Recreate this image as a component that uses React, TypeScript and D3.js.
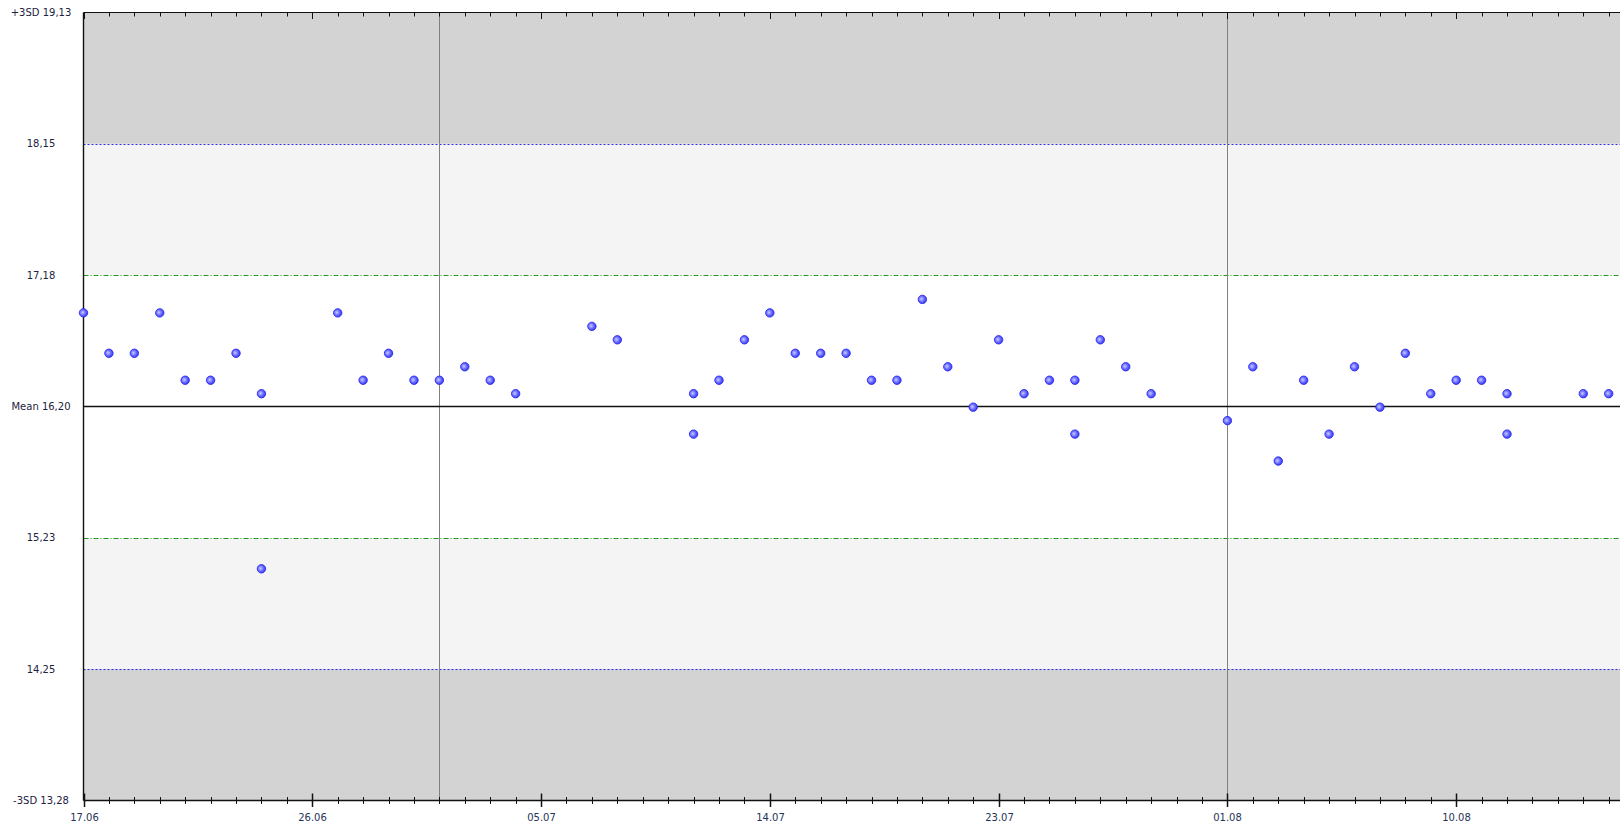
import React from "react";
import * as d3 from "d3";

const START = "2023-06-17";
const dayOffsets: number[] = [0, 1, 2, 3, 4, 5, 6, 7, 7, 10, 11, 12, 13, 14, 15, 16, 17, 20, 21, 24, 24, 25, 26, 27, 28, 29, 30, 31, 32, 33, 34, 35, 36, 37, 38, 39, 39, 40, 41, 42, 45, 46, 47, 48, 49, 50, 51, 52, 53, 54, 55, 56, 56, 59, 60];
const values: number[] = [16.9, 16.6, 16.6, 16.9, 16.4, 16.4, 16.6, 16.3, 15.0, 16.9, 16.4, 16.6, 16.4, 16.4, 16.5, 16.4, 16.3, 16.8, 16.7, 16.3, 16.0, 16.4, 16.7, 16.9, 16.6, 16.6, 16.6, 16.4, 16.4, 17.0, 16.5, 16.2, 16.7, 16.3, 16.4, 16.4, 16.0, 16.7, 16.5, 16.3, 16.1, 16.5, 15.8, 16.4, 16.0, 16.5, 16.2, 16.6, 16.3, 16.4, 16.4, 16.3, 16.0, 16.3, 16.3];

const MEAN = 16.205;
const SD = 0.975;
const sdLevels = [-3, -2, -1, 0, 1, 2, 3];
const yLabels = ["-3SD 13,28", "14,25", "15,23", "Mean 16,20", "17,18", "18,15", "+3SD 19,13"];
const monthLines = ["2023-07-01", "2023-08-01"];
const labelEvery = 9;
const visibleDays = 61;

const W = 1620;
const H = 823;
const left = 83.5;
const top = 12.5;
const bottom = 800.5;
const pxPerDay = 25.42;

export default function App() {
  const t0 = new Date(START + "T00:00:00");
  const t1 = d3.timeDay.offset(t0, visibleDays);
  const x = d3.scaleTime().domain([t0, t1]).range([left, left + visibleDays * pxPerDay]);
  const y = d3.scaleLinear().domain([MEAN - 3 * SD, MEAN + 3 * SD]).range([bottom, top]);
  const days = d3.timeDay.range(t0, d3.timeDay.offset(t1, 1));
  const fmt = d3.timeFormat("%d.%m");
  const pts = dayOffsets.map((d, i) => ({ date: d3.timeDay.offset(t0, d), v: values[i] }));
  const xr = W + 10;
  const band = (a: number, b: number, fill: string, k: string) => (
    <rect key={k} x={left} y={y(b)} width={xr - left} height={y(a) - y(b)} fill={fill} />
  );
  return (
    <svg width={W} height={H} style={{ position: "absolute", left: 0, top: 0, display: "block", background: "#fff" }}>
      <defs>
        <radialGradient id="pg" cx="40%" cy="45%" r="60%">
          <stop offset="0%" stopColor="#c8ccff" />
          <stop offset="55%" stopColor="#6a6cff" />
          <stop offset="100%" stopColor="#3535f5" />
        </radialGradient>
      </defs>
      {band(MEAN + 2 * SD, MEAN + 3 * SD, "#d3d3d3", "b1")}
      {band(MEAN + SD, MEAN + 2 * SD, "#f4f4f4", "b2")}
      {band(MEAN - SD, MEAN + SD, "#ffffff", "b3")}
      {band(MEAN - 2 * SD, MEAN - SD, "#f4f4f4", "b4")}
      {band(MEAN - 3 * SD, MEAN - 2 * SD, "#d3d3d3", "b5")}
      {[2, -2].map((k) => (
        <line key={"s2" + k} x1={left} x2={xr} y1={Math.round(y(MEAN + k * SD)) + 0.5} y2={Math.round(y(MEAN + k * SD)) + 0.5} stroke="#2a2ae0" strokeWidth={1} strokeDasharray="2,2" />
      ))}
      {[1, -1].map((k) => (
        <line key={"s1" + k} x1={left} x2={xr} y1={Math.round(y(MEAN + k * SD)) + 0.5} y2={Math.round(y(MEAN + k * SD)) + 0.5} stroke="#1f9a1f" strokeWidth={1} strokeDasharray="5,2,1,2" />
      ))}
      {monthLines.map((m) => {
        const xx = Math.round(x(new Date(m + "T00:00:00"))) + 0.5;
        return <line key={m} x1={xx} x2={xx} y1={top} y2={bottom} stroke="#808080" strokeWidth={1} />;
      })}
      <line x1={left} x2={xr} y1={y(MEAN)} y2={y(MEAN)} stroke="#111" strokeWidth={1.6} />
      <line x1={left} x2={xr} y1={top} y2={top} stroke="#111" strokeWidth={1.2} />
      <line x1={left} x2={xr} y1={bottom} y2={bottom} stroke="#111" strokeWidth={1.4} />
      <line x1={left} x2={left} y1={top} y2={bottom} stroke="#111" strokeWidth={1.4} />
      {days.map((d, i) => {
        const xx = Math.round(x(d)) + 0.5;
        const major = i % labelEvery === 0;
        return (
          <g key={"t" + i}>
            <line x1={xx} x2={xx} y1={top} y2={top + (major ? 6.5 : 4)} stroke="#111" strokeWidth={1} />
            <line x1={xx} x2={xx} y1={bottom - (major ? 7 : 3.5)} y2={bottom + (major ? 6.5 : 3.5)} stroke="#111" strokeWidth={major ? 1.5 : 1} />
            {major && (
              <text x={xx} y={817} textAnchor="middle" dominantBaseline="central" fontFamily="DejaVu Sans" fontSize={10} fill="#1f3557">
                {fmt(d)}
              </text>
            )}
          </g>
        );
      })}
      {sdLevels.map((k, i) => (
        <text key={"yl" + k} x={41} y={y(MEAN + k * SD)} textAnchor="middle" dominantBaseline="central" fontFamily="DejaVu Sans" fontSize={10} fill="#1c2340">
          {yLabels[i]}
        </text>
      ))}
      {pts.map((p, i) => (
        <circle key={"p" + i} cx={x(p.date)} cy={y(p.v)} r={4.2} fill="url(#pg)" stroke="#2a2af0" strokeWidth={0.9} />
      ))}
    </svg>
  );
}
